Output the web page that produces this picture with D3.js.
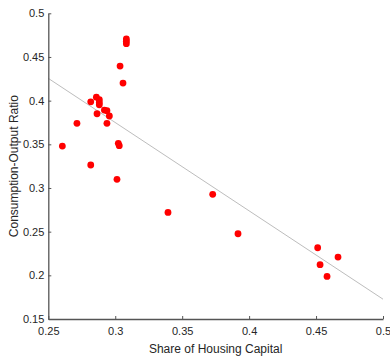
<!DOCTYPE html>
<html>
<head>
<meta charset="utf-8">
<script src="https://cdn.jsdelivr.net/npm/d3@7"></script>
<style>
  body { margin: 0; background: #fff; }
  svg text { font-family: "Liberation Sans", Arial, sans-serif; fill: #262626; }
</style>
</head>
<body>
<svg id="chart" width="390" height="363"></svg>
<script>
// scatter data: share of housing capital vs consumption-output ratio
const housingShare = [0.2605, 0.2714, 0.2817, 0.2817, 0.2859, 0.2864, 0.2881, 0.2881, 0.2881,
    0.2919, 0.2938, 0.2956, 0.2938, 0.3023, 0.3030, 0.3013, 0.3036, 0.3058, 0.3083, 0.3083,
    0.3083, 0.3394, 0.3728, 0.3917, 0.4512, 0.4530, 0.4582, 0.4664];
const consRatio = [0.348, 0.374, 0.3987, 0.3263, 0.404, 0.385, 0.401, 0.398, 0.3953,
    0.3892, 0.3885, 0.3824, 0.374, 0.3511, 0.3484, 0.3099, 0.4396, 0.4201, 0.4706, 0.468,
    0.4652, 0.272, 0.2927, 0.2476, 0.2316, 0.2122, 0.1988, 0.2209];

// fitted line end points
const fitX = [0.25, 0.5];
const fitY = [0.4255, 0.1727];

const xTicks = [0.25, 0.3, 0.35, 0.4, 0.45, 0.5];
const yTicks = [0.15, 0.2, 0.25, 0.3, 0.35, 0.4, 0.45, 0.5];

const svg = d3.select("#chart");
const mLeft = 48.3, mRight = 383, mTop = 13.3, mBottom = 319;

let x = d3.scaleLinear().domain([0.25, 0.5]).range([mLeft, mRight]);
let y = d3.scaleLinear().domain([0.15, 0.5]).range([mBottom, mTop]);

// fit line
let fit = fitX.map((d, i) => [d, fitY[i]]);
svg.append("path")
    .datum(fit)
    .attr("fill", "none")
    .attr("stroke", "#bdbdbd")
    .attr("stroke-width", 1)
    .attr("d", d3.line().x(d => x(d[0])).y(d => y(d[1])));

// points
let pts = housingShare.map((d, i) => ({x: d, y: consRatio[i]}));
svg.append("g")
    .selectAll("circle")
    .data(pts)
    .enter().append("circle")
    .attr("cx", d => x(d.x))
    .attr("cy", d => y(d.y))
    .attr("r", 3.4)
    .attr("fill", "#ff0000");

// axes, ticks pointing inward like matlab
const fmt = d => d3.format("")(+d.toFixed(2));
let xAxis = svg.append("g")
    .attr("transform", `translate(0,${mBottom})`)
    .call(d3.axisBottom(x).tickValues(xTicks).tickSizeInner(-3).tickSizeOuter(0).tickPadding(6).tickFormat(fmt));
let yAxis = svg.append("g")
    .attr("transform", `translate(${mLeft},0)`)
    .call(d3.axisLeft(y).tickValues(yTicks).tickSizeInner(-3).tickSizeOuter(0).tickPadding(4).tickFormat(fmt));

[xAxis, yAxis].forEach(g => {
    g.select(".domain").attr("stroke", "#555").attr("stroke-width", 1.3);
    g.selectAll(".tick line").attr("stroke", "#555");
    g.selectAll(".tick text")
        .attr("font-size", 11)
        .attr("font-family", "Liberation Sans, Arial, sans-serif")
        .attr("fill", "#333");
});
xAxis.selectAll(".tick text").attr("dy", "0.9em");

// axis labels
svg.append("text")
    .attr("x", (mLeft + mRight) / 2)
    .attr("y", 353)
    .attr("text-anchor", "middle")
    .attr("font-size", 12)
    .text("Share of Housing Capital");

svg.append("text")
    .attr("transform", `translate(18,${(mTop + mBottom) / 2}) rotate(-90)`)
    .attr("text-anchor", "middle")
    .attr("font-size", 12)
    .text("Consumption-Output Ratio");
</script>
</body>
</html>
